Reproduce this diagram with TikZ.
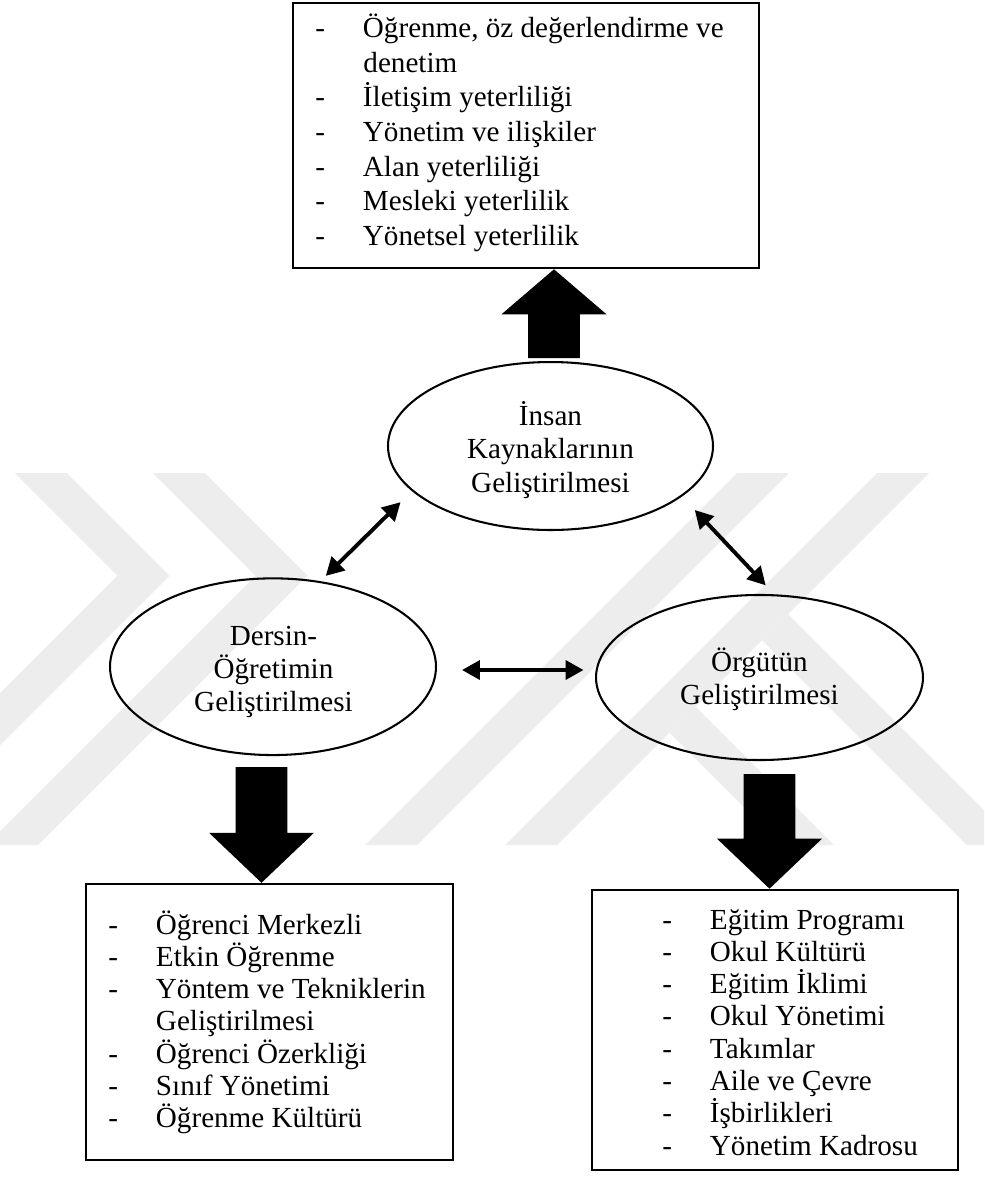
\documentclass[tikz,border=0pt]{standalone}
\usepackage{fontspec}
\setmainfont{Liberation Serif}
\usetikzlibrary{shapes.geometric, arrows.meta, calc}

% one unit of the drawing grid
\newlength\pxlen
\setlength\pxlen{0.412pt}

\tikzset{
  bubble/.style={draw, ellipse, line width=0.85pt, inner sep=0pt},
  listbox/.style={draw, rectangle, line width=1.05pt, inner sep=0pt},
  captext/.style={font=\fontsize{12pt}{14pt}\selectfont, inner sep=0pt, anchor=base},
  itemtext/.style={font=\fontsize{12pt}{14pt}\selectfont, inner sep=0pt, anchor=base west},
  linkarrow/.style={line width=1.6pt,
    {Triangle[length=7.4pt,width=7.8pt]}-{Triangle[length=7.4pt,width=7.8pt]}},
  watermark/.style={fill=black!7},
}

% list entry with a leading dash
\newcommand\dashitem[4]{\node[itemtext] (#1) at (#2,#3) {\makebox[47.5\pxlen][l]{-}#4};}
% wrapped continuation of an entry
\newcommand\contitem[4]{\node[itemtext] (#1) at (#2,#3) {#4};}
% thick block arrow from tail #1 to tip #2 with head length #3
\newcommand\blockarrow[3]{%
  \coordinate (#1-h) at ($(#2)!#3!(#1)$);
  \fill ([xshift=-10.71pt]#1) -- ([xshift=-10.71pt]#1-h) -- ([xshift=-21.63pt]#1-h)
    -- (#2) -- ([xshift=21.63pt]#1-h) -- ([xshift=10.71pt]#1-h) -- ([xshift=10.71pt]#1) -- cycle;}

\begin{document}
\begin{tikzpicture}[x=\pxlen, y=-\pxlen]
\useasboundingbox (0,0) rectangle (984,1178);
\fill[white] (0,0) rectangle (984,1178);

% faint background emblem
\begin{scope}
  \clip (0,473) rectangle (984,845);
  \fill[watermark] (15,473) -- (67,473) -- (169.5,575.5) -- (-100,845) -- (-152,845) -- (117.5,575.5) -- cycle;
  \fill[watermark] (153,473) -- (205,473) -- (307.5,575.5) -- (38,845) -- (-14,845) -- (255.5,575.5) -- cycle;
  \fill[watermark] (737,473) -- (789,473) -- (417,845) -- (365,845) -- cycle;
  \fill[watermark] (877,473) -- (929,473) -- (557,845) -- (505,845) -- cycle;
  \fill[watermark] (788,614) -- (1019,845) -- (967,845) -- (762,640) -- cycle;
  \fill[watermark] (695.5,706.5) -- (834,845) -- (782,845) -- (669.5,732.5) -- cycle;
\end{scope}

% outcome boxes
\node[listbox, minimum width=192pt, minimum height=109.2pt] (topbox) at (526,135.5) {};
\node[listbox, minimum width=151.2pt, minimum height=113.7pt] (lbox) at (269.5,1022) {};
\node[listbox, minimum width=150.8pt, minimum height=115.4pt] (rbox) at (775,1030) {};

% the three development areas
\node[bubble, minimum width=133.9pt, minimum height=69.2pt] (insan) at (550.5,446) {};
\node[bubble, minimum width=134.3pt, minimum height=72.8pt] (dersin) at (273,666.7) {};
\node[bubble, minimum width=134.7pt, minimum height=68pt] (orgut) at (759.5,677.5) {};

\node[captext] (insan-1) at (550.5,425) {İnsan};
\node[captext] (insan-2) at (550.5,458.5) {Kaynaklarının};
\node[captext] (insan-3) at (550.5,492) {Geliştirilmesi};

\node[captext] (dersin-1) at (273.5,645) {Dersin-};
\node[captext] (dersin-2) at (273.5,678.3) {Öğretimin};
\node[captext] (dersin-3) at (273.5,711.7) {Geliştirilmesi};

\node[captext] (orgut-1) at (759.5,671) {Örgütün};
\node[captext] (orgut-2) at (759.5,704.3) {Geliştirilmesi};

% mutual links
\draw[linkarrow, shorten <=3.09pt, shorten >=6.51pt] (dersin.61.2) -- (insan.198.2);
\draw[linkarrow, shorten <=7.64pt, shorten >=5.07pt] (insan.-21.3) -- (orgut.80);
\draw[linkarrow] ([xshift=10.3pt, yshift=-1.36pt]dersin.east) -- ([xshift=-4.74pt, yshift=3.09pt]orgut.west);

% block arrows towards the outcome boxes
\coordinate (up-s) at (554,358);
\coordinate (up-t) at (up-s |- topbox.south);
\blockarrow{up-s}{up-t}{18.54pt}
\coordinate (ld-s) at (261.5,767);
\coordinate (ld-t) at (ld-s |- lbox.north);
\blockarrow{ld-s}{ld-t}{20.6pt}
\coordinate (rd-s) at (769.5,774);
\coordinate (rd-t) at (rd-s |- rbox.north);
\blockarrow{rd-s}{rd-t}{20.6pt}

% human resources outcomes
\dashitem{hr-1}{315}{37.3}{Öğrenme, öz değerlendirme ve}
\contitem{hr-1b}{363}{72}{denetim}
\dashitem{hr-2}{315}{106.7}{İletişim yeterliliği}
\dashitem{hr-3}{315}{141.4}{Yönetim ve ilişkiler}
\dashitem{hr-4}{315}{176.1}{Alan yeterliliği}
\dashitem{hr-5}{315}{210.8}{Mesleki yeterlilik}
\dashitem{hr-6}{315}{245.5}{Yönetsel yeterlilik}

% teaching outcomes
\dashitem{te-1}{108}{934}{Öğrenci Merkezli}
\dashitem{te-2}{108}{966.3}{Etkin Öğrenme}
\dashitem{te-3}{108}{998.6}{Yöntem ve Tekniklerin}
\contitem{te-3b}{155.5}{1030.9}{Geliştirilmesi}
\dashitem{te-4}{108}{1063.2}{Öğrenci Özerkliği}
\dashitem{te-5}{108}{1095.5}{Sınıf Yönetimi}
\dashitem{te-6}{108}{1127.8}{Öğrenme Kültürü}

% organisation outcomes
\dashitem{or-1}{662}{929}{Eğitim Programı}
\dashitem{or-2}{662}{961.3}{Okul Kültürü}
\dashitem{or-3}{662}{993.6}{Eğitim İklimi}
\dashitem{or-4}{662}{1025.9}{Okul Yönetimi}
\dashitem{or-5}{662}{1058.2}{Takımlar}
\dashitem{or-6}{662}{1090.5}{Aile ve Çevre}
\dashitem{or-7}{662}{1122.8}{İşbirlikleri}
\dashitem{or-8}{662}{1155.1}{Yönetim Kadrosu}
\end{tikzpicture}
\end{document}
